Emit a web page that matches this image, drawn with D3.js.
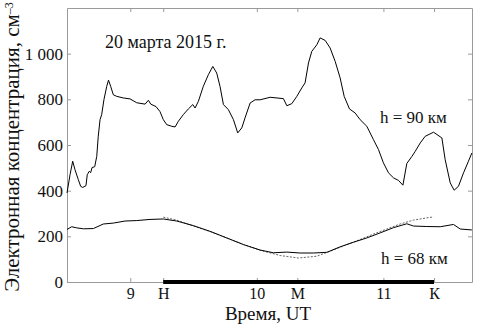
<!DOCTYPE html>
<html><head><meta charset="utf-8">
<script src="https://cdn.jsdelivr.net/npm/d3@7"></script>
<style>body{margin:0;background:#fff;overflow:hidden}</style>
</head><body>
<svg id="c" width="483" height="326"></svg>
<script>
// h = 90 km electron concentration (time UT, hours)
const t90 = [8.500,8.524,8.545,8.563,8.589,8.608,8.624,8.650,8.660,8.676,8.687,8.698,8.719,8.735,8.747,8.761,8.774,8.792,8.814,8.828,8.845,8.866,8.893,8.945,8.998,9.051,9.117,9.143,9.162,9.204,9.235,9.261,9.288,9.328,9.354,9.380,9.419,9.459,9.494,9.512,9.538,9.577,9.617,9.652,9.683,9.709,9.736,9.775,9.815,9.849,9.881,9.907,9.947,9.986,10.026,10.105,10.210,10.237,10.276,10.316,10.355,10.381,10.408,10.434,10.474,10.500,10.540,10.579,10.619,10.658,10.690,10.732,10.777,10.816,10.869,10.921,10.961,11.000,11.040,11.080,11.119,11.154,11.185,11.225,11.251,11.291,11.330,11.396,11.462,11.488,11.528,11.559,11.593,11.633,11.672,11.699];
const v90 = [390,470,529,492,449,419,414,422,470,485,479,501,505,550,638,711,733,799,857,884,857,820,813,806,802,785,779,796,779,768,746,711,689,682,679,704,733,758,777,762,791,857,908,944,915,857,777,755,711,653,675,719,784,798,798,809,803,772,781,813,850,872,959,1010,1039,1069,1058,1025,966,894,813,758,740,711,682,624,580,522,478,456,445,424,519,550,572,609,638,656,631,536,434,402,419,478,529,565];
// h = 68 km measured
const t68 = [8.500,8.537,8.577,8.629,8.708,8.787,8.866,8.958,9.051,9.156,9.261,9.367,9.498,9.630,9.762,9.894,10.026,10.131,10.237,10.342,10.447,10.553,10.658,10.763,10.869,10.974,11.080,11.185,11.238,11.343,11.449,11.554,11.607,11.699];
const v68 = [230,242,237,233,234,254,258,267,269,274,276,267,247,222,193,164,140,128,131,127,127,130,154,174,193,215,238,255,245,243,242,252,232,228];
// h = 68 km model (dotted)
const tModel = [9.261,9.367,9.498,9.630,9.762,9.894,10.026,10.184,10.329,10.474,10.605,10.711,10.816,10.921,11.027,11.132,11.238,11.343,11.396];
const vModel = [284,271,245,221,193,164,139,116,105,113,140,164,186,210,232,254,271,281,285];

const yTicks = [0,200,400,600,800,1000];
const yTickLabels = ["0","200","400","600","800","1 000"];
const xTicks = [9, 9.26, 10, 10.32, 11, 11.4];
const xTickLabels = ["9","Н","10","М","11","К"];
const eclipseSpan = [9.26, 11.4];

const svg = d3.select("#c");
const L = 67, R = 472, T = 8, B = 282;
const x = d3.scaleLinear().domain([8.5, 11.7]).range([L, R]);
const y = d3.scaleLinear().domain([0, 1200]).range([B, T]);
const font = "'Liberation Serif','Times New Roman',serif";
const axisCol = "#9a9a9a";

function styleAxis(g, showText, size) {
  g.select(".domain").attr("stroke", axisCol);
  g.selectAll(".tick line").attr("stroke", axisCol);
  g.selectAll(".tick text").attr("fill", "#111").style("font-family", font).style("font-size", size + "px");
  if (!showText) g.selectAll(".tick text").remove();
}

svg.append("g").attr("transform", `translate(0,${B})`)
  .call(d3.axisBottom(x).tickValues(xTicks).tickFormat((d,i)=>xTickLabels[i]).tickSizeInner(-4).tickSizeOuter(0).tickPadding(6))
  .call(g => styleAxis(g, true, 16));
svg.append("g").attr("transform", `translate(0,${T})`)
  .call(d3.axisTop(x).tickValues(xTicks).tickSizeInner(-4).tickSizeOuter(0))
  .call(g => styleAxis(g, false, 16));
svg.append("g").attr("transform", `translate(${L},0)`)
  .call(d3.axisLeft(y).tickValues(yTicks).tickFormat((d,i)=>yTickLabels[i]).tickSizeInner(-4).tickSizeOuter(0).tickPadding(4))
  .call(g => styleAxis(g, true, 17));
svg.append("g").attr("transform", `translate(${R},0)`)
  .call(d3.axisRight(y).tickValues(yTicks).tickSizeInner(-4).tickSizeOuter(0))
  .call(g => styleAxis(g, false, 16));

// eclipse bar
svg.append("line")
  .attr("x1", x(eclipseSpan[0])).attr("x2", x(eclipseSpan[1]))
  .attr("y1", B).attr("y2", B)
  .attr("stroke", "#000").attr("stroke-width", 4);

const line = d3.line().x(d => x(d[0])).y(d => y(d[1]));
svg.append("path").datum(d3.zip(tModel, vModel)).attr("d", line)
  .attr("fill", "none").attr("stroke", "#666").attr("stroke-width", 1).attr("stroke-dasharray", "2,1.5");
svg.append("path").datum(d3.zip(t68, v68)).attr("d", line)
  .attr("fill", "none").attr("stroke", "#000").attr("stroke-width", 1);
svg.append("path").datum(d3.zip(t90, v90)).attr("d", line)
  .attr("fill", "none").attr("stroke", "#000").attr("stroke-width", 1);

const txt = (s, px, py, size, anchor) => svg.append("text").attr("x", px).attr("y", py)
  .attr("text-anchor", anchor || "start").style("font-family", font).style("font-size", size + "px").attr("fill", "#111").text(s);

txt("20 марта 2015 г.", 105, 48, 18);
txt("h = 90 км", 380, 123, 17);
txt("h = 68 км", 381, 264, 17);
txt("Время, UT", 268, 320, 19, "middle");

const yl = svg.append("text").attr("transform", "translate(19,147) rotate(-90)")
  .attr("text-anchor", "middle").style("font-family", font).style("font-size", "21px").attr("fill", "#111");
yl.append("tspan").text("Электронная концентрация, см");
yl.append("tspan").attr("dy", "-0.5em").style("font-size", "12px").text("–3");
</script>
</body></html>
